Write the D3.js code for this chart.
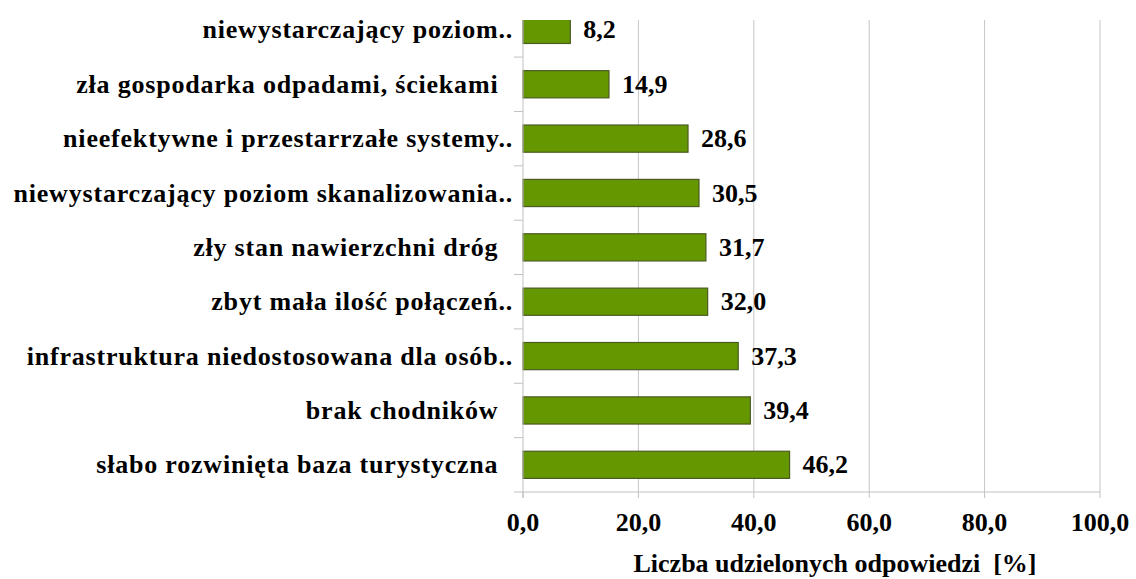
<!DOCTYPE html>
<html lang="pl">
<head>
<meta charset="UTF-8">
<title>Liczba udzielonych odpowiedzi</title>
<style>
    body, html {
        margin: 0;
        padding: 0;
        background: #fff;
    }
    svg text {
        font-family: "Liberation Serif", "Times New Roman", serif;
        font-weight: bold;
        fill: #000;
        white-space: pre;
    }
    .cat { letter-spacing: 0.8px; }
</style>
<script src="https://d3js.org/d3.v7.min.js"></script>
</head>
<body>
<div id="chart"></div>
<script>
    // categories top to bottom
    const categories = [
        "niewystarczający poziom..",
        "zła gospodarka odpadami, ściekami  ",
        "nieefektywne i przestarrzałe systemy..",
        "niewystarczający poziom skanalizowania..",
        "zły stan nawierzchni dróg  ",
        "zbyt mała ilość połączeń..",
        "infrastruktura niedostosowana dla osób..",
        "brak chodników  ",
        "słabo rozwinięta baza turystyczna  "
    ];
    const values = [8.2, 14.9, 28.6, 30.5, 31.7, 32.0, 37.3, 39.4, 46.2];
    const xTicks = [0, 20, 40, 60, 80, 100];
    const xTitle = "Liczba udzielonych odpowiedzi  [%]";

    const width = 1136, height = 579;
    const plotLeft = 523, plotRight = 1100, plotTop = 20, plotBottom = 492;
    const fontSize = 26;

    const fmt = v => v.toFixed(1).replace(".", ",");

    const svg = d3.select("#chart").append("svg")
        .attr("width", width)
        .attr("height", height);

    const x = d3.scaleLinear().domain([0, 100]).range([plotLeft, plotRight]);
    // top band is partly cut off by the plot edge
    const y = d3.scaleBand().domain(categories).range([2.7, plotBottom]).paddingInner(0.5).paddingOuter(0.25);

    svg.append("defs").append("clipPath").attr("id", "plot")
        .append("rect")
        .attr("x", plotLeft - 10).attr("y", plotTop)
        .attr("width", plotRight - plotLeft + 20).attr("height", plotBottom - plotTop);

    // gridlines
    svg.append("g").selectAll("line")
        .data(xTicks.slice(1))
        .join("line")
        .attr("x1", d => x(d)).attr("x2", d => x(d))
        .attr("y1", plotTop).attr("y2", plotBottom)
        .attr("stroke", "#c6c6c6").attr("stroke-width", 1);

    // bars
    svg.append("g").attr("clip-path", "url(#plot)")
        .selectAll("rect")
        .data(values)
        .join("rect")
        .attr("x", x(0))
        .attr("y", (d, i) => y(categories[i]))
        .attr("width", d => x(d) - x(0))
        .attr("height", y.bandwidth())
        .attr("fill", "#659700")
        .attr("stroke", "#4a5b20")
        .attr("stroke-width", 1.2);

    // axes lines and ticks
    const axisColor = "#c0c0c0";
    svg.append("line")
        .attr("x1", x(0)).attr("x2", x(0))
        .attr("y1", plotTop).attr("y2", plotBottom + 6)
        .attr("stroke", axisColor);
    svg.append("line")
        .attr("x1", x(0) - 9).attr("x2", plotRight)
        .attr("y1", plotBottom).attr("y2", plotBottom)
        .attr("stroke", axisColor);

    // y ticks between categories
    svg.append("g").selectAll("line")
        .data(categories.slice(1))
        .join("line")
        .attr("x1", x(0) - 9).attr("x2", x(0))
        .attr("y1", d => y(d) - y.step() * y.paddingInner() / 2)
        .attr("y2", d => y(d) - y.step() * y.paddingInner() / 2)
        .attr("stroke", axisColor);

    // x ticks
    svg.append("g").selectAll("line")
        .data(xTicks)
        .join("line")
        .attr("x1", d => x(d)).attr("x2", d => x(d))
        .attr("y1", plotBottom).attr("y2", plotBottom + 6)
        .attr("stroke", axisColor);

    // x tick labels
    svg.append("g").selectAll("text")
        .data(xTicks)
        .join("text")
        .attr("x", d => x(d))
        .attr("y", 531)
        .attr("text-anchor", "middle")
        .attr("font-size", fontSize)
        .text(d => fmt(d));

    // category labels
    svg.append("g").selectAll("text")
        .data(categories)
        .join("text")
        .attr("class", "cat")
        .attr("x", 513)
        .attr("y", d => y(d) + y.bandwidth() / 2)
        .attr("dy", "0.33em")
        .attr("text-anchor", "end")
        .attr("font-size", fontSize)
        .text(d => d);

    // value labels
    svg.append("g").selectAll("text")
        .data(values)
        .join("text")
        .attr("x", d => x(d) + 13)
        .attr("y", (d, i) => y(categories[i]) + y.bandwidth() / 2)
        .attr("dy", "0.33em")
        .attr("font-size", fontSize)
        .text(d => fmt(d));

    // axis title
    svg.append("text")
        .attr("x", 835)
        .attr("y", 572)
        .attr("text-anchor", "middle")
        .attr("font-size", fontSize)
        .text(xTitle);
</script>
</body>
</html>
